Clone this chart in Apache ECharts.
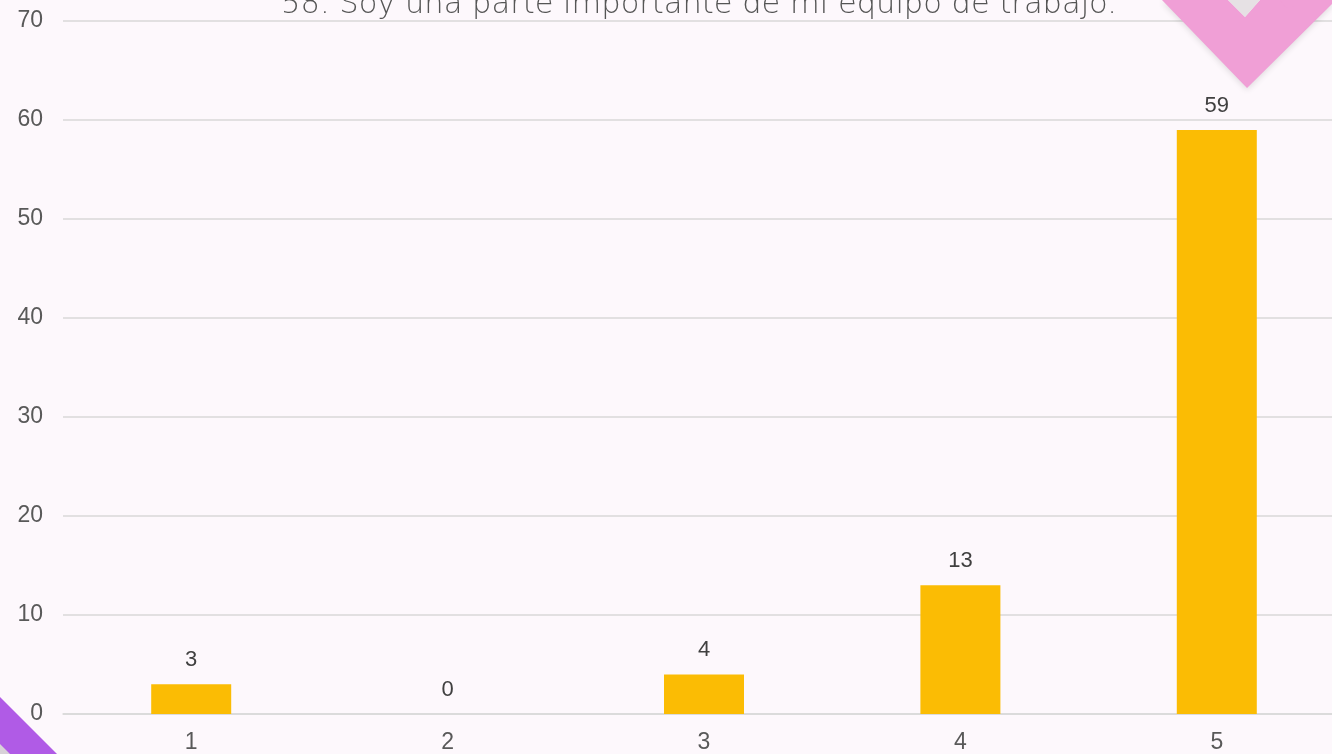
<!DOCTYPE html>
<html>
<head>
<meta charset="utf-8">
<script src="https://cdn.jsdelivr.net/npm/echarts@6/dist/echarts.min.js"></script>
<style>
  html, body { margin: 0; padding: 0; background: #fdf8fc; }
  #chart { width: 1332px; height: 754px; }
</style>
</head>
<body>
<div id="chart"></div>
<script>
// Responses to item 58, on a 1–5 agreement scale
const categories = ['1', '2', '3', '4', '5'];
const counts = [3, 0, 4, 13, 59];
const titleText = '58. Soy una parte importante de mi equipo de trabajo.';

const chart = echarts.init(document.getElementById('chart'));
chart.setOption({
  backgroundColor: '#fdf8fc',
  animation: false,
  title: {
    text: titleText,
    left: 694,
    textAlign: 'center',
    top: -15,
    textStyle: {
      fontFamily: 'DejaVu Sans',
      fontWeight: 200,
      fontSize: 30.5,
      color: '#555555'
    }
  },
  grid: { left: 63, top: 21, width: 1282, height: 693, containLabel: false, outerBoundsMode: 'none' },
  xAxis: {
    type: 'category',
    data: categories,
    axisTick: { show: false },
    axisLine: { lineStyle: { color: '#d9d9d9', width: 1.5 } },
    axisLabel: { color: '#595959', fontSize: 23, fontFamily: 'Liberation Sans', margin: 17 }
  },
  yAxis: {
    type: 'value',
    min: 0,
    max: 70,
    interval: 10,
    axisLine: { show: false },
    axisTick: { show: false },
    splitLine: { lineStyle: { color: '#d9d9d9', width: 1.5 } },
    axisLabel: { color: '#595959', fontSize: 23, fontFamily: 'Liberation Sans', margin: 20 }
  },
  series: [{
    type: 'bar',
    data: counts,
    barWidth: 80,
    itemStyle: { color: '#fbbc04' },
    label: {
      show: true,
      position: 'top',
      distance: 13,
      color: '#404040',
      fontSize: 22,
      fontFamily: 'Liberation Sans'
    }
  }],
  graphic: [
    {
      // pink chevron in the top-right corner
      type: 'polygon',
      z: 100,
      shape: { points: [[1162, 0], [1247, 88], [1332, 4], [1332, 0], [1260, 0], [1245, 17], [1228, 0]] },
      style: { fill: '#f09fd6', shadowBlur: 6, shadowColor: 'rgba(0,0,0,0.12)', shadowOffsetY: 2 }
    },
    {
      type: 'polygon',
      z: 100,
      shape: { points: [[1228, 0], [1245, 17], [1260, 0]] },
      style: { fill: '#e6e1e4' }
    },
    {
      type: 'polygon',
      z: 101,
      shape: { points: [[1280, 0], [1298, 0], [1298, 6], [1286, 8]] },
      style: { fill: '#f09fd6' }
    },
    {
      // violet corner in the bottom-left
      type: 'polygon',
      z: 100,
      shape: { points: [[0, 697], [57, 754], [0, 754]] },
      style: { fill: '#b05be6' }
    },
    {
      type: 'polygon',
      z: 101,
      shape: { points: [[0, 744], [10, 754], [0, 754]] },
      style: { fill: '#d8d2d8' }
    }
  ]
});
</script>
</body>
</html>
